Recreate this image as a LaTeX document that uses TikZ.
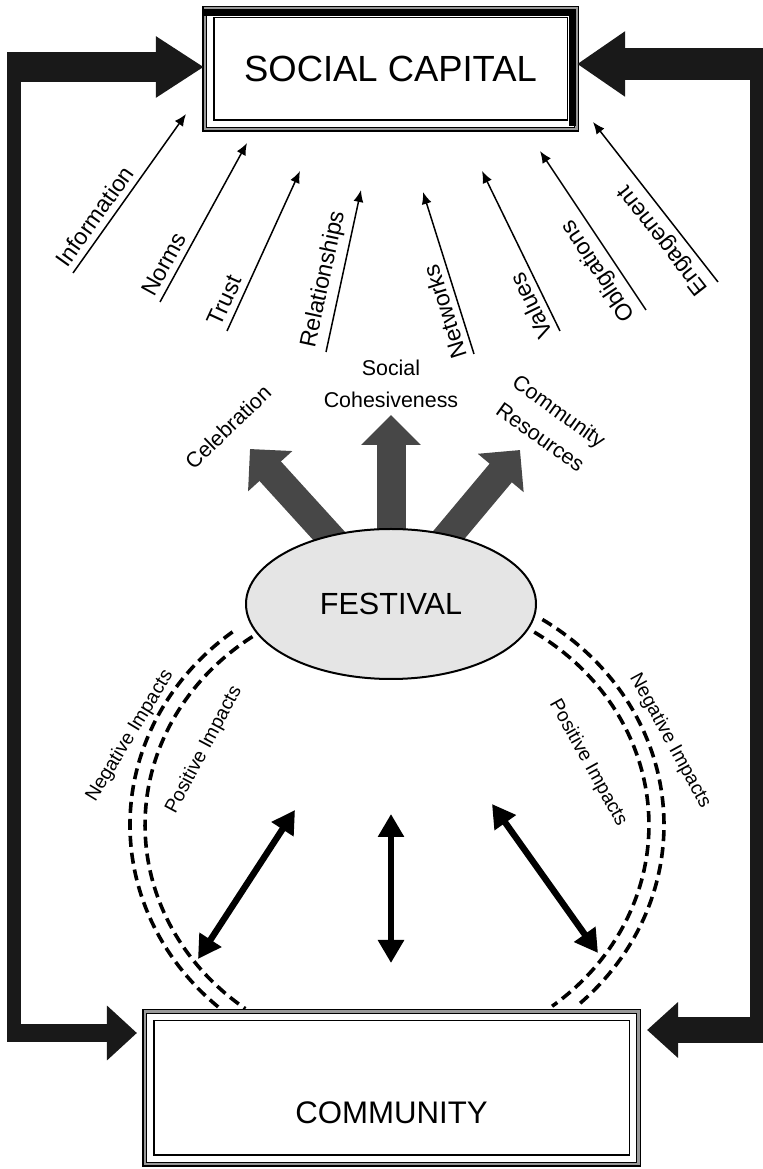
\documentclass[tikz,border=0pt]{standalone}
\usepackage{fontspec}
\setmainfont{Liberation Sans}
\usetikzlibrary{arrows.meta,shapes.geometric,positioning,backgrounds}

\tikzstyle{framebox} = [rectangle, draw=black, line width=0.75pt, double=black!40, double distance=1.2pt, fill=white,
        path picture={\draw[line width=0.6pt] ([shift={(4.6pt,4.6pt)}]path picture bounding box.south west) rectangle ([shift={(-4.6pt,-4.6pt)}]path picture bounding box.north east);}]
\tikzstyle{festnode} = [ellipse, draw=black, line width=1pt, fill=black!10, minimum width=145pt, minimum height=75pt, font=\fontsize{15.3}{18}\selectfont]
\tikzstyle{factor} = [font=\fontsize{11.6}{14}\selectfont, inner xsep=0pt, inner ysep=3pt]
\tikzstyle{factorarrow} = [line width=0.75pt, -{Latex[length=6pt,width=5pt]}]
\tikzstyle{outcome} = [font=\fontsize{10.7}{16}\selectfont, inner sep=1pt]
\tikzstyle{fatarrow} = [draw=black!72, line width=14.5pt, -{Triangle[length=15pt,width=29pt]}]
\tikzstyle{impact} = [line width=1.8pt, dash pattern=on 5.5pt off 3pt]
\tikzstyle{impactlabel} = [font=\fontsize{9.7}{12}\selectfont, inner sep=1pt]
\tikzstyle{link} = [line width=3.2pt, {Triangle[length=11.5pt,width=12.5pt]}-{Triangle[length=11.5pt,width=12.5pt]}]
\tikzstyle{loopbar} = [draw=black!90]

\begin{document}
\begin{tikzpicture}[x=0.5pt, y=0.5pt]
\useasboundingbox (0,0) rectangle (762,1169);

\node (sc) [framebox, minimum width=185.8pt, minimum height=60.3pt, font=\fontsize{18.2}{22}\selectfont] at (390.5,1100) {SOCIAL CAPITAL};
\node (com) [framebox, minimum width=246.8pt, minimum height=76.3pt, text height=35pt, text depth=0pt, font=\fontsize{15.6}{18}\selectfont] at (391.5,81) {COMMUNITY};
\node (fest) [festnode] at (391,565) {FESTIVAL};
\draw [line width=3.2pt] ([yshift=-2.2pt]sc.north west) -- ([shift={(-2.2pt,-2.2pt)}]sc.north east) -- ([shift={(-2.2pt,2pt)}]sc.south east);

% feedback loops
\coordinate (lt) at (7,1102);
\coordinate (lb) at (7,136);
\coordinate (rt) at (764,1105);
\coordinate (rb) at (764,139);
\coordinate (comL) at ([xshift=-3.5pt]com.west);
\coordinate (comR) at ([xshift=4pt]com.east);
\draw [loopbar, line width=15pt, -{Triangle[length=24pt,width=29pt]}] (lt) -- (lt -| sc.west);
\draw [loopbar, line width=7pt] ([xshift=3.5pt,yshift=7.5pt]lt) -- ([xshift=3.5pt,yshift=-4.5pt]lb);
\draw [loopbar, line width=9pt, -{Triangle[length=15pt,width=26.5pt]}] (lb) -- (lb -| comL);
\draw [loopbar, line width=16pt, -{Triangle[length=24pt,width=31pt]}] (rt) -- (rt -| sc.east);
\draw [loopbar, line width=7pt] ([xshift=-3.5pt,yshift=8pt]rt) -- ([xshift=-3.5pt,yshift=-6.5pt]rb);
\draw [loopbar, line width=13pt, -{Triangle[length=15.5pt,width=27pt]}] (rb) -- (rb -| comR);

% factors of social capital
\foreach \f/\sx/\sy/\tx/\ty in {Information/73/896/186/1055, Norms/160/867/247/1026, Trust/227/838/300/998, Relationships/326/817/361/979, Networks/474/815/423/977, Values/560/838/482/998, Obligations/646/859/540/1018, Engagement/718/887/593/1047}{
    \coordinate (\f-from) at (\sx,\sy);
    \coordinate (\f-to) at (\tx,\ty);
    \draw [factorarrow] (\f-from) -- node [factor, pos=0, sloped, allow upside down, anchor=south west] {\f} (\f-to);
}

% festival outcomes
\node (celeb) [outcome, rotate=44] at (228,742) {Celebration};
\node (cohes) [outcome, align=center] at (391,785) {Social\\Cohesiveness};
\node (resour) [outcome, align=center, rotate=-35.5] at (550,745) {Community\\Resources};

\begin{scope}[on background layer]
    \coordinate (celebT) at (250,720);
    \coordinate (cohesT) at (391,754);
    \coordinate (resourT) at (520,719);
    \draw [fatarrow] (fest.center) -- (celebT);
    \draw [fatarrow] (fest.center) -- (cohesT);
    \draw [fatarrow] (fest.center) -- (resourT);
    % impacts
    \coordinate (negL) at (232.6,537.1);
    \coordinate (posL) at (252.5,532.4);
    \coordinate (negR) at (542.4,549.5);
    \coordinate (posR) at (534.2,536.9);
    \draw [impact] (negL) arc[start angle=128, end angle=228, x radius=133.5pt, y radius=122.5pt];
    \draw [impact] (posL) arc[start angle=125, end angle=233, x radius=126pt, y radius=115pt];
    \draw [impact] (negR) arc[start angle=57, end angle=-48, x radius=133.5pt, y radius=122.5pt];
    \draw [impact] (posR) arc[start angle=57, end angle=-52, x radius=126pt, y radius=115pt];
\end{scope}

\node (negLlab) [impactlabel, rotate=58.7] at (130,433) {Negative Impacts};
\node (posLlab) [impactlabel, rotate=62] at (204,419) {Positive Impacts};
\node (negRlab) [impactlabel, rotate=-61.4] at (670,428) {Negative Impacts};
\node (posRlab) [impactlabel, rotate=-61] at (588,406) {Positive Impacts};

% festival and community
\coordinate (linkLa) at (295,359);
\coordinate (linkLb) at (198,210);
\coordinate (linkCa) at (391,355);
\coordinate (linkCb) at (391,206);
\coordinate (linkRa) at (492,365);
\coordinate (linkRb) at (598,216);
\draw [link] (linkLa) -- (linkLb);
\draw [link] (linkCa) -- (linkCb);
\draw [link] (linkRa) -- (linkRb);
\end{tikzpicture}
\end{document}
